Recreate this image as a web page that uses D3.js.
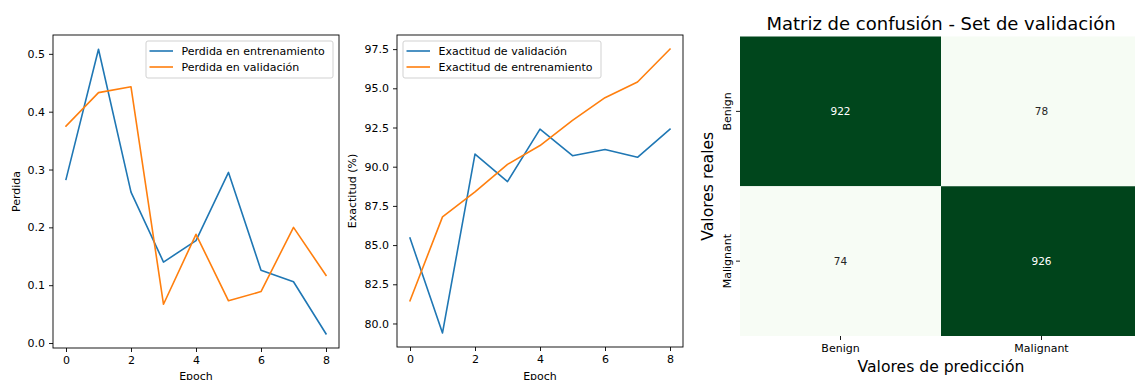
<!DOCTYPE html>
<html>
<head>
<meta charset="utf-8">
<script src="https://cdn.jsdelivr.net/npm/d3@7"></script>
<style>
  body { margin: 0; background: #fff; }
  svg { display: block; font-family: "DejaVu Sans", sans-serif; }
</style>
</head>
<body>
<svg id="chart" width="1135" height="380"></svg>
<script>
const epochs = [0, 1, 2, 3, 4, 5, 6, 7, 8];
const lossTrain = [0.283, 0.508, 0.261, 0.140, 0.177, 0.295, 0.126, 0.106, 0.016];
const lossVal = [0.375, 0.433, 0.443, 0.067, 0.188, 0.073, 0.089, 0.200, 0.117];
const accVal = [85.45, 79.4, 90.8, 89.05, 92.4, 90.7, 91.1, 90.6, 92.4];
const accTrain = [81.45, 86.8, 88.4, 90.15, 91.35, 92.95, 94.4, 95.4, 97.5];
const lossTicks = [0.0, 0.1, 0.2, 0.3, 0.4, 0.5];
const accTicks = [80.0, 82.5, 85.0, 87.5, 90.0, 92.5, 95.0, 97.5];
const epochTicks = [0, 2, 4, 6, 8];
const classes = ["Benign", "Malignant"];
const confusion = [[922, 78], [74, 926]];

const svg = d3.select("#chart");
const blue = "#1f77b4", orange = "#ff7f0e";
const fs = 11;

function styleAxis(a) {
    a.select(".domain").remove();
    a.selectAll("line").attr("stroke", "#000").attr("stroke-width", 0.9);
    a.selectAll("text").attr("font-size", fs).attr("font-family", "DejaVu Sans").attr("fill", "#000");
}

function linePanel(box, ydomain, yticks, ylabel, series, legendSide) {
    const g = svg.append("g");
    const x = d3.scaleLinear().domain([-0.4, 8.4]).range([box.left, box.right]);
    const y = d3.scaleLinear().domain(ydomain).range([box.bottom, box.top]);

    const line = d3.line().x((d, i) => x(epochs[i])).y(d => y(d));
    series.forEach(s => {
        g.append("path").datum(s.values)
            .attr("d", line)
            .attr("fill", "none")
            .attr("stroke", s.color)
            .attr("stroke-width", 1.6)
            .attr("stroke-linejoin", "round")
            .attr("stroke-linecap", "square");
    });

    const xAxis = g.append("g").attr("transform", `translate(0,${box.bottom})`)
        .call(d3.axisBottom(x).tickValues(epochTicks).tickSize(4).tickPadding(4));
    const yAxis = g.append("g").attr("transform", `translate(${box.left},0)`)
        .call(d3.axisLeft(y).tickValues(yticks).tickFormat(d3.format(".1f")).tickSize(4).tickPadding(4));
    styleAxis(xAxis);
    styleAxis(yAxis);

    g.append("rect")
        .attr("x", box.left).attr("y", box.top)
        .attr("width", box.right - box.left).attr("height", box.bottom - box.top)
        .attr("fill", "none").attr("stroke", "#000").attr("stroke-width", 0.9);

    g.append("text")
        .attr("x", (box.left + box.right) / 2).attr("y", 379.5)
        .attr("text-anchor", "middle").attr("font-size", fs).text("Epoch");
    g.append("text")
        .attr("transform", `translate(${box.ylabelX},${(box.top + box.bottom) / 2}) rotate(-90)`)
        .attr("text-anchor", "middle")
        .attr("font-size", fs).text(ylabel);

    // legend
    const lg = g.append("g");
    const lx = legendSide === "right" ? box.right - 6 - box.legendW : box.left + 6;
    lg.append("rect")
        .attr("x", lx).attr("y", box.top + 6)
        .attr("width", box.legendW).attr("height", 37)
        .attr("rx", 2).attr("fill", "#fff").attr("fill-opacity", 0.8)
        .attr("stroke", "#cccccc").attr("stroke-width", 0.9);
    series.forEach((s, i) => {
        const cy = box.top + 16 + i * 16;
        lg.append("line")
            .attr("x1", lx + 3.5).attr("x2", lx + 27)
            .attr("y1", cy).attr("y2", cy)
            .attr("stroke", s.color).attr("stroke-width", 1.6);
        lg.append("text")
            .attr("x", lx + 35.5).attr("y", cy)
            .attr("dominant-baseline", "central")
            .attr("font-size", fs).text(s.name);
    });
}

linePanel({left: 53, right: 339, top: 35, bottom: 348, ylabelX: 20, legendW: 187},
    [-0.0086, 0.5326], lossTicks, "Perdida",
    [{name: "Perdida en entrenamiento", values: lossTrain, color: blue},
     {name: "Perdida en validación", values: lossVal, color: orange}], "right");

linePanel({left: 397, right: 683, top: 35, bottom: 347, ylabelX: 356, legendW: 198},
    [78.5, 98.4], accTicks, "Exactitud (%)",
    [{name: "Exactitud de validación", values: accVal, color: blue},
     {name: "Exactitud de entrenamiento", values: accTrain, color: orange}], "left");

// confusion matrix
const hm = {left: 740, right: 1142, top: 36.5, bottom: 336};
const hx = d3.scaleBand().domain(classes).range([hm.left, hm.right]);
const hy = d3.scaleBand().domain(classes).range([hm.top, hm.bottom]);
const flat = confusion.flatMap((row, i) => row.map((v, j) => ({r: classes[i], c: classes[j], v})));
const ext = d3.extent(flat, d => d.v);
const color = d3.scaleSequential(d3.interpolateGreens).domain(ext);
const hg = svg.append("g");

hg.selectAll("rect").data(flat).join("rect")
    .attr("x", d => hx(d.c)).attr("y", d => hy(d.r))
    .attr("width", hx.bandwidth()).attr("height", hy.bandwidth())
    .attr("fill", d => color(d.v));

hg.selectAll("text.val").data(flat).join("text")
    .attr("class", "val")
    .attr("x", d => hx(d.c) + hx.bandwidth() / 2)
    .attr("y", d => hy(d.r) + hy.bandwidth() / 2)
    .attr("text-anchor", "middle").attr("dominant-baseline", "central")
    .attr("font-size", 10.5)
    .attr("fill", d => (d.v - ext[0]) / (ext[1] - ext[0]) > 0.5 ? "#ffffff" : "#262626")
    .text(d => d.v);

const hxAxis = hg.append("g").attr("transform", `translate(0,${hm.bottom})`)
    .call(d3.axisBottom(hx).tickSize(4).tickPadding(4));
const hyAxis = hg.append("g").attr("transform", `translate(${hm.left},0)`)
    .call(d3.axisLeft(hy).tickSize(4).tickPadding(4));
styleAxis(hxAxis);
styleAxis(hyAxis);
hyAxis.selectAll(".tick text")
    .attr("x", 0).attr("dy", null)
    .attr("text-anchor", "middle")
    .attr("transform", "translate(-9.5,0) rotate(-90)");

hg.append("text")
    .attr("x", (hm.left + hm.right) / 2).attr("y", 29.5)
    .attr("text-anchor", "middle").attr("font-size", 18)
    .text("Matriz de confusión - Set de validación");
hg.append("text")
    .attr("x", (hm.left + hm.right) / 2).attr("y", 371.5)
    .attr("text-anchor", "middle").attr("font-size", 15.6)
    .text("Valores de predicción");
hg.append("text")
    .attr("transform", `translate(712.5,${(hm.top + hm.bottom) / 2}) rotate(-90)`)
    .attr("text-anchor", "middle")
    .attr("font-size", 15.6)
    .text("Valores reales");
</script>
</body>
</html>
